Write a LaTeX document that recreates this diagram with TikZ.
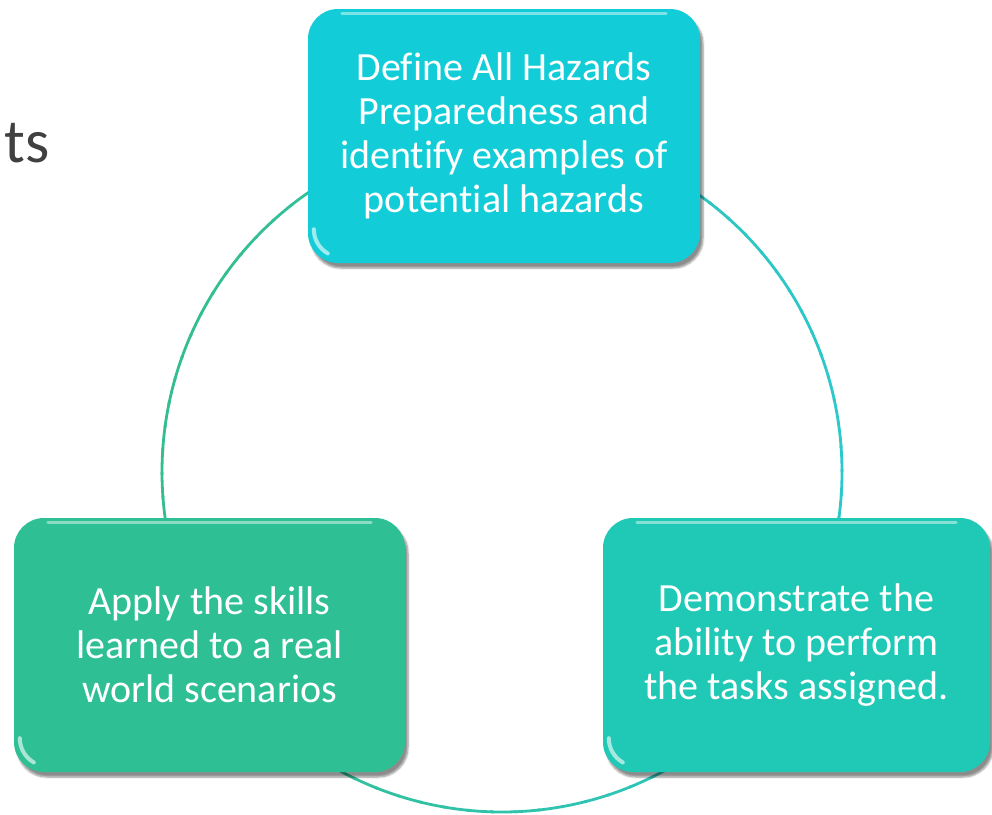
\documentclass[tikz,border=0pt]{standalone}
\usepackage{fontspec}
\setmainfont[Ligatures=NoCommon]{Carlito}
\usetikzlibrary{shadows.blur}
\definecolor{topfill}{RGB}{18,205,215}
\definecolor{leftfill}{RGB}{46,192,148}
\definecolor{rightfill}{RGB}{32,201,182}
\definecolor{ringgreen}{RGB}{52,190,140}
\definecolor{ringcyan}{RGB}{44,200,204}
\definecolor{titlegray}{RGB}{64,64,64}
\tikzset{
  stepbox/.style={rounded corners=30pt, draw=none, text=white,
    font=\fontsize{40}{44}\selectfont, align=center,
    minimum height=254pt,
    blur shadow={shadow xshift=3pt, shadow yshift=-5pt, shadow blur steps=6, shadow opacity=45}},
  gloss/.style={white, opacity=0.45, line width=3pt, line cap=round},
}
\begin{document}
\begin{tikzpicture}[x=1pt,y=-1pt]
\useasboundingbox (0,0) rectangle (992,814);

% cycle ring, shading from green on the left to cyan on the right
\coordinate (ringc) at (502,472);
\foreach \a in {0,4,...,356}{
  \pgfmathtruncatemacro\p{50+50*cos(\a+2)}
  \draw[color=ringcyan!\p!ringgreen, line width=2.8pt]
    ([shift={(\a:340pt)}]ringc) arc[start angle=\a, end angle=\a+4.5, radius=340pt];
}

% partial heading at the left edge
\node[anchor=base east, text=titlegray, font=\fontsize{62}{70}\selectfont, inner sep=0pt]
  (head) at (50,162) {ts};

% the three steps
\node[stepbox, fill=topfill, minimum width=392pt] (define) at (504,136)
  {Define All Hazards\\Preparedness and\\identify examples of\\potential hazards};
\node[stepbox, fill=rightfill, minimum width=387pt] (demo) at (796.5,645)
  {Demonstrate the\\ability to perform\\the tasks assigned.};
\node[stepbox, fill=leftfill, minimum width=391pt] (apply) at (209.5,645)
  {Apply the skills\\learned to a real\\world scenarios};

% glossy highlights on each box
\foreach \b in {define,demo,apply}{
  \draw[gloss] ([xshift=34pt,yshift=-5pt]\b.north west) -- ([xshift=-34pt,yshift=-5pt]\b.north east);
  \draw[gloss, line width=4pt, opacity=0.6]
    ([xshift=6pt,yshift=34pt]\b.south west) arc[start angle=180, end angle=240, radius=28pt];
}
\end{tikzpicture}
\end{document}
